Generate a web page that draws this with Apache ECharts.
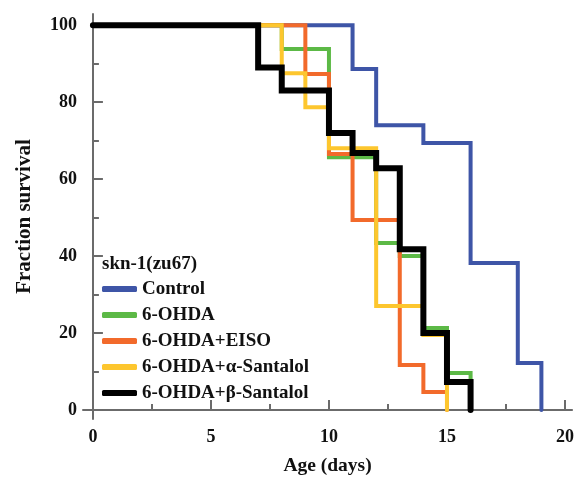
<!DOCTYPE html>
<html><head><meta charset="utf-8">
<script src="https://cdn.jsdelivr.net/npm/echarts@6/dist/echarts.min.js"></script>
<style>html,body{margin:0;padding:0;background:#fff}#c{width:577px;height:481px}</style>
</head><body><div id="c"></div>
<script>
const seriesNames = ['Control','6-OHDA','6-OHDA+EISO','6-OHDA+\u03b1-Santalol','6-OHDA+\u03b2-Santalol'];
const controlDays = [0,11,12,14,16,18,19];
const controlSurv = [100,88.6,74,69.4,38.2,12.2,0];
const ohdaDays = [0,8,10,12,13,14,15,16];
const ohdaSurv = [100,93.8,65.7,43.4,40,21.3,9.6,0];
const eisoDays = [0,9,10,11,13,14,15];
const eisoSurv = [100,87.3,66.5,49.4,11.7,4.7,0];
const alphaDays = [0,8,9,10,12,14,15];
const alphaSurv = [100,87.5,78.7,68,27,19.5,0];
const betaDays = [0,7,8,10,11,12,13,14,15,16];
const betaSurv = [100,89,83,72,66.8,62.8,41.8,20,7.3,0];
const xMajorTicks = [0,5,10,15,20];
const xMinorTicks = [2.5,7.5,12.5,17.5];
const yMajorTicks = [0,20,40,60,80,100];
const yMinorTicks = [10,30,50,70,90];

const colors = ['#3e55a7','#5cb946','#f26a2b','#fdc62e','#000000'];
const widths = [4,4,4,4,6];
const allDays = [controlDays,ohdaDays,eisoDays,alphaDays,betaDays];
const allSurv = [controlSurv,ohdaSurv,eisoSurv,alphaSurv,betaSurv];
const FONT = '"Liberation Serif","Times New Roman",serif';
const xMin=-0.42, xMax=20.3, yMin=-2.34, yMax=102.9;
const axisCol = '#6b6b6b';

const chart = echarts.init(document.getElementById('c'));
const series = seriesNames.map((n,i)=>({
  name:n, type:'line', step:'end', symbol:'none', xAxisIndex:0, yAxisIndex:0,
  data: allDays[i].map((d,k)=>[d, allSurv[i][k]]),
  lineStyle:{color:colors[i], width:widths[i], cap:'round', join:'miter'},
  itemStyle:{color:colors[i]}, z: 2+i
}));
chart.setOption({
  animation:false,
  grid:{left:83, right:0, top:14, bottom:62},
  xAxis:[{
    type:'value', min:xMin, max:xMax,
    name:'Age (days)', nameLocation:'middle', nameGap:37,
    nameTextStyle:{fontFamily:FONT, fontWeight:'bold', fontSize:19.5, color:'#111'},
    axisLine:{show:true, lineStyle:{color:axisCol, width:2}},
    axisTick:{show:true, inside:true, length:10, customValues:xMajorTicks, lineStyle:{color:axisCol, width:2}},
    axisLabel:{customValues:xMajorTicks, fontFamily:FONT, fontWeight:'bold', fontSize:18, color:'#111', margin:9},
    splitLine:{show:false}
  },{
    type:'value', min:xMin, max:xMax, position:'bottom',
    axisLine:{show:false},
    axisTick:{show:true, inside:true, length:6, customValues:xMinorTicks, lineStyle:{color:axisCol, width:2}},
    axisLabel:{show:false}, splitLine:{show:false}
  }],
  yAxis:[{
    type:'value', min:yMin, max:yMax,
    name:'Fraction survival', nameLocation:'middle', nameGap:48, nameRotate:90,
    nameTextStyle:{fontFamily:FONT, fontWeight:'bold', fontSize:21, color:'#111'},
    axisLine:{show:true, lineStyle:{color:axisCol, width:2}},
    axisTick:{show:true, inside:true, length:10, customValues:yMajorTicks, lineStyle:{color:axisCol, width:2}},
    axisLabel:{customValues:yMajorTicks, fontFamily:FONT, fontWeight:'bold', fontSize:18, color:'#111', margin:6},
    splitLine:{show:false}
  },{
    type:'value', min:yMin, max:yMax, position:'left',
    axisLine:{show:false},
    axisTick:{show:true, inside:true, length:6, customValues:yMinorTicks, lineStyle:{color:axisCol, width:2}},
    axisLabel:{show:false}, splitLine:{show:false}
  }],
  title:{text:'skn-1(zu67)', left:97, top:250,
    textStyle:{fontFamily:FONT, fontWeight:'bold', fontSize:19, color:'#111'}},
  legend:{
    orient:'vertical', left:97, top:274, itemGap:6,
    itemWidth:35, itemHeight:6, icon:'roundRect',
    data: seriesNames,
    textStyle:{fontFamily:FONT, fontWeight:'bold', fontSize:19, color:'#111', lineHeight:20}
  },
  series: series
});
</script></body></html>
